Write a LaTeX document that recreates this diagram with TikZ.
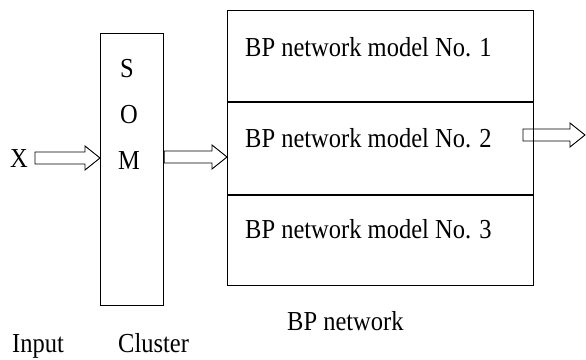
\documentclass[tikz,border=0pt]{standalone}
\usepackage{fontspec}
\usepackage{graphicx}
\setmainfont{Liberation Serif}
\usetikzlibrary{calc}
% slightly tall lettering
\newcommand\tallt[1]{\scalebox{1}[1.12]{#1}}
\tikzset{
  boxline/.style={draw=black, line width=1.1pt},
  label text/.style={font=\fontsize{24.5}{28}\selectfont, inner sep=0pt, anchor=base west},
  letter text/.style={font=\fontsize{24.5}{28}\selectfont, inner sep=0pt, anchor=base},
  hollow arrow/.style={draw=black, fill=white, line width=0.9pt, line join=miter}
}
% hollow block arrow from #1 (tail) to #2 (tip), horizontal
\newcommand\hollowarrow[2]{%
  \draw[hollow arrow] let \p1=(#1), \p2=(#2) in
    (\x1,\y1+6pt) -- (\x2-15pt,\y1+6pt) -- (\x2-15pt,\y1+12pt) -- (\x2,\y1)
    -- (\x2-15pt,\y1-12pt) -- (\x2-15pt,\y1-6pt) -- (\x1,\y1-6pt) -- cycle;}
\begin{document}
\begin{tikzpicture}[x=1pt, y=-1pt]
\useasboundingbox[fill=white] (0,0) rectangle (586,359);

% SOM cluster column
\node[boxline, minimum width=63pt, minimum height=272pt, inner sep=0pt, anchor=north west] (som) at (100,33) {};
\node[letter text] (s) at (127,77) {\tallt{S}};
\node[letter text] (o) at (129,123) {\tallt{O}};
\node[letter text] (m) at (129,169) {\tallt{M}};

% output arrow sits under the BP box border
\coordinate (outtail) at (523,135);
\coordinate (outtip) at (585,135);
\hollowarrow{outtail}{outtip}

% BP network models, stacked
\node[boxline, fill=none, minimum width=306pt, minimum height=91pt, inner sep=0pt, anchor=north west] (bp1) at (227,10) {};
\node[boxline, fill=none, minimum width=306pt, minimum height=92pt, inner sep=0pt, anchor=north] (bp2) at (bp1.south) {};
\node[boxline, fill=none, minimum width=306pt, minimum height=90pt, inner sep=0pt, anchor=north] (bp3) at (bp2.south) {};
\node[label text] (t1) at (245,56) {\tallt{BP network model No. 1}};
\node[label text] (t2) at (245,147) {\tallt{BP network model No. 2}};
\node[label text] (t3) at (245,238) {\tallt{BP network model No. 3}};

% input
\node[label text] (x) at (10,167) {\tallt{X}};
\coordinate (intail) at (35,158);
\coordinate (sominput) at (som.west |- intail);
\hollowarrow{intail}{sominput}

% SOM to BP network
\coordinate (somout) at (som.east |- 0,157);
\coordinate (bpin) at (bp2.west |- somout);
\hollowarrow{somout}{bpin}

% captions
\node[label text] (cin) at (12,352) {\tallt{Input}};
\node[label text] (ccl) at (118,352) {\tallt{Cluster}};
\node[label text] (cbp) at (287,330) {\tallt{BP network}};
\end{tikzpicture}
\end{document}
